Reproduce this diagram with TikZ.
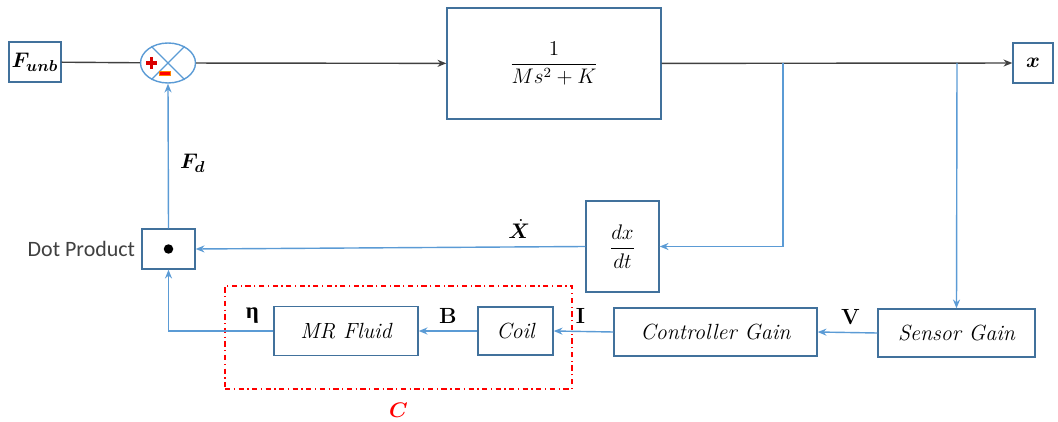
\documentclass[tikz,border=0pt]{standalone}
\usepackage{amsmath}
\usepackage{bm}
\usepackage{fontspec}
\newfontfamily\carlito{Carlito}
\newfontfamily\greekserif{Liberation Serif}
\usetikzlibrary{shapes.geometric, arrows.meta, positioning, calc}
\definecolor{boxblue}{HTML}{41719C}
\definecolor{wireblue}{HTML}{5B9BD5}
\definecolor{wiregray}{HTML}{404040}
\definecolor{groupred}{HTML}{FF0000}

\begin{document}
\begin{tikzpicture}[
    x=0.02cm, y=-0.02cm,
    block/.style={rectangle, draw=boxblue, line width=0.8pt, inner sep=0pt, align=center, font=\fontsize{12.5}{15}\selectfont\itshape},
    sumjoint/.style={ellipse, draw=wireblue, line width=0.8pt, minimum width=1.1cm, minimum height=0.8cm, inner sep=0pt},
    mainarrow/.style={-{Stealth[length=5pt,width=4pt]}, line width=0.8pt, draw=wiregray},
    arrow/.style={-{Stealth[length=5pt,width=4pt]}, line width=0.8pt, draw=wireblue},
    sig/.style={font=\fontsize{12.5}{15}\selectfont\bfseries, inner sep=1pt},
    groupbox/.style={rectangle, draw=groupred, line width=0.7pt, dash dot, minimum width=6.94cm, minimum height=2.06cm, inner sep=0pt}
]
\useasboundingbox (0,0) rectangle (1058,422);
% forward path
\node[block, minimum width=1.04cm, minimum height=0.8cm, font=\fontsize{12.5}{15}\selectfont] (funb) at (35,62) {$\bm{F_{unb}}$};
\node[sumjoint] (sum) at (168,63) {};
\node[block, minimum width=4.28cm, minimum height=2.22cm, font=\fontsize{12}{15}\selectfont] (plant) at (554,63.5) {$\dfrac{1}{Ms^2+K}$};
\node[block, minimum width=0.8cm, minimum height=0.8cm, font=\fontsize{12.5}{15}\selectfont] (xout) at (1033,63) {$\bm{x}$};
\coordinate (tapa) at (783,63);
\coordinate (tapb) at (957,63);
% feedback path
\node[block, minimum width=1.06cm, minimum height=0.8cm] (dotp) at (168.5,249) {};
\node[left=0pt of dotp, text=wiregray, font=\fontsize{12.5}{15}\selectfont\carlito] (dotlbl) {Dot Product};
\node[block, minimum width=1.46cm, minimum height=1.82cm, font=\fontsize{12}{15}\selectfont] (ddt) at (622.5,246.5) {$\dfrac{dx}{dt}$};
\node[block, minimum width=3.14cm, minimum height=0.96cm] (sensor) at (956.5,333) {Sensor Gain};
\node[block, minimum width=4.06cm, minimum height=0.96cm] (ctrl) at (715.5,332) {Controller Gain};
\node[block, minimum width=1.5cm, minimum height=0.96cm] (coil) at (515.5,331) {Coil};
\node[block, minimum width=2.88cm, minimum height=0.98cm] (mrf) at (346,331) {MR Fluid};
\node[groupbox] (damper) at (398.5,337.5) {};
\node[below=4pt of damper, text=groupred, font=\fontsize{13}{15}\selectfont] (clbl) {$\bm{C}$};
% summing junction marks
\draw[wireblue, line width=0.7pt] (sum.45) -- (sum.225) (sum.135) -- (sum.315);
\fill[red!85!black] (146,61.5) rectangle (157,65);
\fill[red!85!black] (149.8,57.5) rectangle (153.2,69);
\filldraw[fill=red, draw=orange, line width=0.5pt] (159.5,71) rectangle (170.5,75.5);
\fill (dotp.center) circle (0.95mm);
% connectors
\draw[line width=0.8pt, draw=wiregray] (funb) -- (sum);
\draw[mainarrow] (sum) -- (plant);
\draw[mainarrow] (plant) -- (xout);
\draw[arrow] (tapa) |- (ddt.east);
\draw[arrow] (tapb) -- (sensor.north);
\draw[arrow] (ddt.west) -- node[pos=0.17, above=1pt, font=\fontsize{12.5}{15}\selectfont] {$\bm{\dot{X}}$} (dotp.east);
\draw[arrow] (sensor.west) -- node[above=3pt, pos=0.45, sig] {V} (ctrl.east);
\draw[arrow] (ctrl.west) -- node[above=3pt, pos=0.55, sig] {I} (coil.east);
\draw[arrow] (coil.west) -- node[above=3pt, pos=0.5, sig] {B} (mrf.east);
\draw[arrow] (mrf.west) -| node[pos=0.1, above=3pt, sig, font=\fontsize{13}{15}\selectfont\greekserif\bfseries] {η} (dotp.south);
\draw[arrow] (dotp.north) -- node[right=3pt, pos=0.45, font=\fontsize{12.5}{15}\selectfont] {$\bm{F_d}$} (sum.south);
\end{tikzpicture}
\end{document}
